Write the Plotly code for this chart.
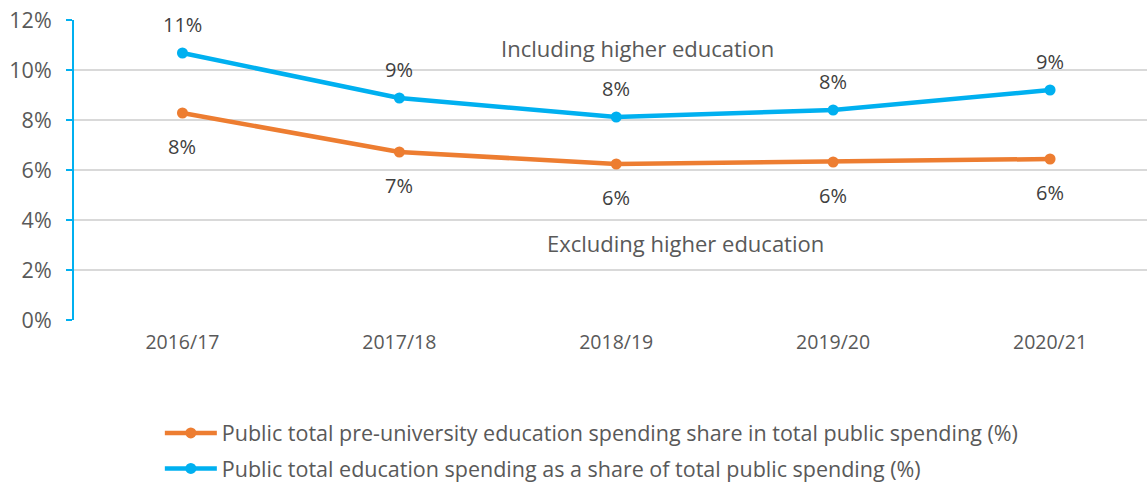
import plotly.graph_objects as go

years = ["2016/17", "2017/18", "2018/19", "2019/20", "2020/21"]
pre_university = [8.28, 6.72, 6.24, 6.32, 6.44]
total_education = [10.68, 8.88, 8.12, 8.40, 9.20]
y_ticks = [0, 2, 4, 6, 8, 10, 12]

ORANGE = "#ED7D31"
BLUE = "#00B0F0"
TEXT = "#595959"
FONT = "Open Sans"

fig = go.Figure()
fig.add_trace(go.Scatter(
    x=years, y=pre_university, mode="lines+markers",
    name="Public total pre-university education spending share in total public spending (%)",
    line=dict(color=ORANGE, width=4.5), marker=dict(size=11, color=ORANGE),
    legend="legend",
))
fig.add_trace(go.Scatter(
    x=years, y=total_education, mode="lines+markers",
    name="Public total education spending as a share of total public spending (%)",
    line=dict(color=BLUE, width=4.5), marker=dict(size=11, color=BLUE),
    legend="legend2",
))

annotations = []
for x, v in zip(years, total_education):
    annotations.append(dict(x=x, y=v, text=f"{round(v)}%", showarrow=False,
                            yshift=29, font=dict(size=20, color="#404040", family=FONT)))
for x, v in zip(years, pre_university):
    annotations.append(dict(x=x, y=v, text=f"{round(v)}%", showarrow=False,
                            yshift=-33, font=dict(size=20, color="#404040", family=FONT)))
annotations.append(dict(x=2.1, y=10.88, xref="x", yref="y", text="Including higher education",
                        showarrow=False, font=dict(size=22, color=TEXT, family=FONT)))
annotations.append(dict(x=2.32, y=3.08, xref="x", yref="y", text="Excluding higher education",
                        showarrow=False, font=dict(size=22, color=TEXT, family=FONT)))

legend_style = dict(xref="paper", yref="container", xanchor="left",
                    itemwidth=52, borderwidth=0, bgcolor="rgba(0,0,0,0)",
                    font=dict(size=21.5, color=TEXT, family=FONT))

fig.update_layout(
    width=1147, height=489,
    margin=dict(l=74, r=0, t=20, b=169),
    paper_bgcolor="white", plot_bgcolor="white",
    font=dict(family=FONT, color=TEXT, size=19),
    showlegend=True,
    legend=dict(x=0.08, y=1 - 433 / 489, yanchor="middle", **legend_style),
    legend2=dict(x=0.08, y=0, yanchor="bottom", **legend_style),
    annotations=annotations,
    xaxis=dict(type="category", range=[-0.5, 4.447], showgrid=False,
               showline=False, ticks="", tickfont=dict(size=19.5, color=TEXT),
               ticklabelstandoff=8),
    yaxis=dict(range=[0, 12], tickvals=y_ticks,
               ticktext=[f"{t}%" for t in y_ticks],
               showgrid=True, gridcolor="#D9D9D9", gridwidth=1.5,
               showline=True, linecolor=BLUE, linewidth=2,
               ticks="outside", ticklen=6, tickcolor=BLUE, tickwidth=2,
               tickfont=dict(size=21.5, color=TEXT), ticklabelstandoff=10,
               zeroline=False),
)

fig.write_html("out.html")
